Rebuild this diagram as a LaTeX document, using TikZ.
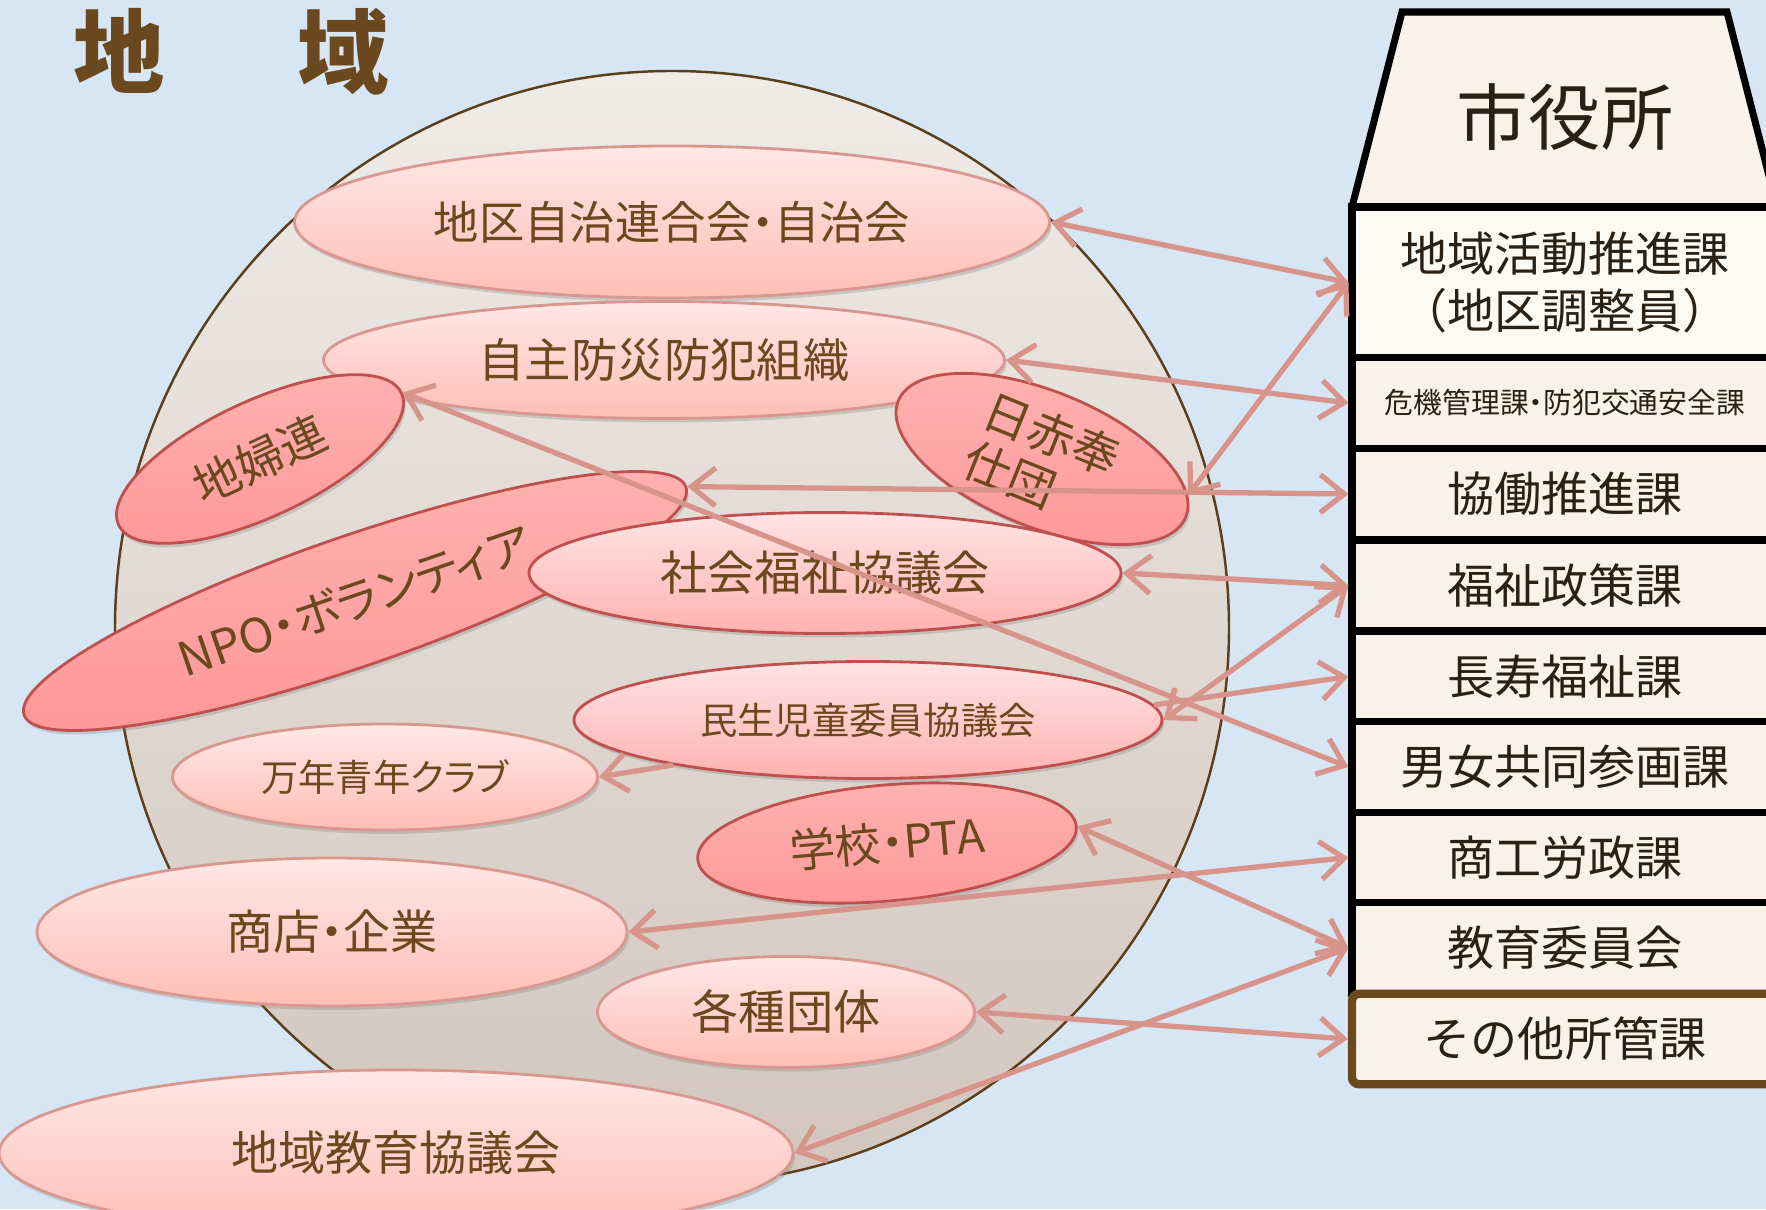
\documentclass[tikz,border=0pt]{standalone}
\usepackage{fontspec}
\setmainfont{Noto Sans CJK JP}
\newfontfamily\propjp{Noto Sans CJK JP}[RawFeature=+palt]
\usetikzlibrary{shapes.geometric,arrows.meta,shadows}

\definecolor{sky}{RGB}{214,230,244}
\definecolor{linkc}{RGB}{216,148,138}
\definecolor{softline}{RGB}{217,152,143}
\definecolor{deepline}{RGB}{192,80,77}
\definecolor{brownt}{RGB}{107,72,30}
\definecolor{darkt}{RGB}{43,32,20}
\definecolor{cream}{RGB}{249,242,233}
\definecolor{whitecream}{RGB}{253,250,243}
\definecolor{pinktop}{RGB}{255,232,230}
\definecolor{pinkbot}{RGB}{255,190,182}
\definecolor{rosetop}{RGB}{255,178,178}
\definecolor{rosebot}{RGB}{255,152,152}
\definecolor{midtop}{RGB}{255,228,228}
\definecolor{midbot}{RGB}{255,178,176}
\definecolor{wallline}{RGB}{92,62,27}
\definecolor{walltop}{RGB}{239,235,231}
\definecolor{wallbot}{RGB}{210,198,190}

\tikzset{
 soft/.style={ellipse,draw=softline,line width=0.8pt,top color=pinktop,bottom color=pinkbot,
  text=brownt,inner sep=0pt,drop shadow={shadow xshift=0.02cm,shadow yshift=-0.04cm,opacity=0.3}},
 rose/.style={soft,draw=deepline,top color=rosetop,bottom color=rosebot},
 mid/.style={soft,draw=deepline,top color=midtop,bottom color=midbot},
 ka/.style={rectangle,draw=black,line width=2pt,fill=cream,text=darkt,
  minimum width=4.26cm,minimum height=0.905cm,inner sep=0pt,font=\fontsize{13.4}{16.2}\selectfont},
 link/.style={draw=linkc,line width=1.5pt,{Straight Barb[length=2.4mm,width=3.8mm]}-{Straight Barb[length=2.4mm,width=3.8mm]}},
 onelink/.style={draw=linkc,line width=1.5pt,-{Straight Barb[length=2.4mm,width=3.8mm]}}
}

\begin{document}
\begin{tikzpicture}
\useasboundingbox (0,0) rectangle (17.66,12.09);
\clip (0,0) rectangle (17.66,12.09);
\fill[sky] (0,0) rectangle (17.66,12.09);

% the area
\draw[wallline,line width=0.7pt,top color=walltop,bottom color=wallbot] (6.72,5.81) circle (5.57);
\node[font=\fontsize{26}{30}\selectfont\bfseries,text=brownt] (chiikititle) at (2.315,11.57) {地\hspace{1.33cm}域};

% groups in the area
\node[soft,minimum width=7.55cm,minimum height=1.52cm,font=\propjp\fontsize{12.9}{14}\selectfont] (jichi) at (6.72,9.87) {地区自治連合会・自治会};
\node[soft,minimum width=6.81cm,minimum height=1.17cm,font=\propjp\fontsize{13.2}{15}\selectfont] (bousai) at (6.64,8.49) {自主防災防犯組織};
\node[rose,minimum width=3.12cm,minimum height=1.16cm,rotate=25,font=\propjp\fontsize{13.4}{15}\selectfont] (fuiren) at (2.60,7.50) {地婦連};
\node[rose,minimum width=3.10cm,minimum height=1.20cm,rotate=-22,align=left,font=\propjp\fontsize{13.4}{15}\selectfont] (nisseki) at (10.42,7.50) {日赤奉\\仕団};
\node[rose,minimum width=7.0cm,minimum height=1.30cm,rotate=19,font=\propjp\fontsize{13.4}{15}\selectfont] (npo) at (3.55,6.08) {NPO・ボランティア};
\node[mid,minimum width=5.92cm,minimum height=1.21cm,font=\propjp\fontsize{13.4}{15}\selectfont] (shakyo) at (8.25,6.36) {社会福祉協議会};
\node[rose,minimum width=3.80cm,minimum height=1.16cm,rotate=5,font=\propjp\fontsize{13}{15}\selectfont] (gakko) at (8.87,3.66) {学校・PTA};
\node[mid,minimum width=5.88cm,minimum height=1.17cm,font=\propjp\fontsize{10.6}{13}\selectfont] (minsei) at (8.68,4.89) {民生児童委員協議会};
\node[soft,minimum width=4.25cm,minimum height=1.06cm,font=\propjp\fontsize{10.6}{12}\selectfont] (mannen) at (3.85,4.32) {万年青年クラブ};
\node[soft,minimum width=5.90cm,minimum height=1.48cm,font=\propjp\fontsize{13.4}{15}\selectfont] (shoten) at (3.32,2.77) {商店・企業};
\node[soft,minimum width=3.77cm,minimum height=1.11cm,font=\propjp\fontsize{13.4}{15}\selectfont] (kakushu) at (7.86,1.97) {各種団体};
\node[soft,minimum width=7.94cm,minimum height=1.66cm,font=\propjp\fontsize{13.4}{15}\selectfont] (chiikikyo) at (3.96,0.56) {地域教育協議会};

% city hall
\draw[line width=2pt,fill=cream] (13.52,10.02) -- (14.02,11.97) -- (17.27,11.97) -- (17.77,10.02);
\node[text=darkt,font=\fontsize{20.5}{24}\selectfont] (shiyakusho) at (15.65,10.92) {市役所};
\node[ka,fill=whitecream,minimum height=1.51cm,align=center] (chiiki) at (15.65,9.265) {地域活動推進課\\（地区調整員）};
\node[ka,font=\propjp\fontsize{8.2}{10}\selectfont] (kiki) at (15.65,8.06) {危機管理課・防犯交通安全課};
\node[ka] (kyodo) at (15.65,7.15) {協働推進課};
\node[ka] (fukushi) at (15.65,6.235) {福祉政策課};
\node[ka] (choju) at (15.65,5.325) {長寿福祉課};
\node[ka] (danjo) at (15.65,4.42) {男女共同参画課};
\node[ka] (shoko) at (15.65,3.515) {商工労政課};
\node[ka] (kyoiku) at (15.65,2.61) {教育委員会};
\node[ka,draw=brownt,line width=2.4pt,rounded corners=2pt] (sonota) at (15.65,1.70) {その他所管課};

% links
\draw[link] (jichi.east) -- (chiiki.west);
\draw[link] (bousai.east) -- (kiki.west);
\draw[link] (nisseki.8) -- (chiiki.west);
\draw[link] (npo.east) -- (kyodo.west);
\draw[link] (fuiren.east) -- (danjo.west);
\draw[link] (shakyo.east) -- (fukushi.west);
\draw[link] (minsei.east) -- (fukushi.west);
\draw[onelink] (minsei.3.5) -- (choju.west);
\draw[onelink] (minsei.193) -- (mannen.east);
\draw[link] (gakko.east) -- (kyoiku.west);
\draw[link] (shoten.east) -- (shoko.west);
\draw[link] (kakushu.east) -- (sonota.west);
\draw[link] (chiikikyo.east) -- (kyoiku.west);
\end{tikzpicture}
\end{document}
